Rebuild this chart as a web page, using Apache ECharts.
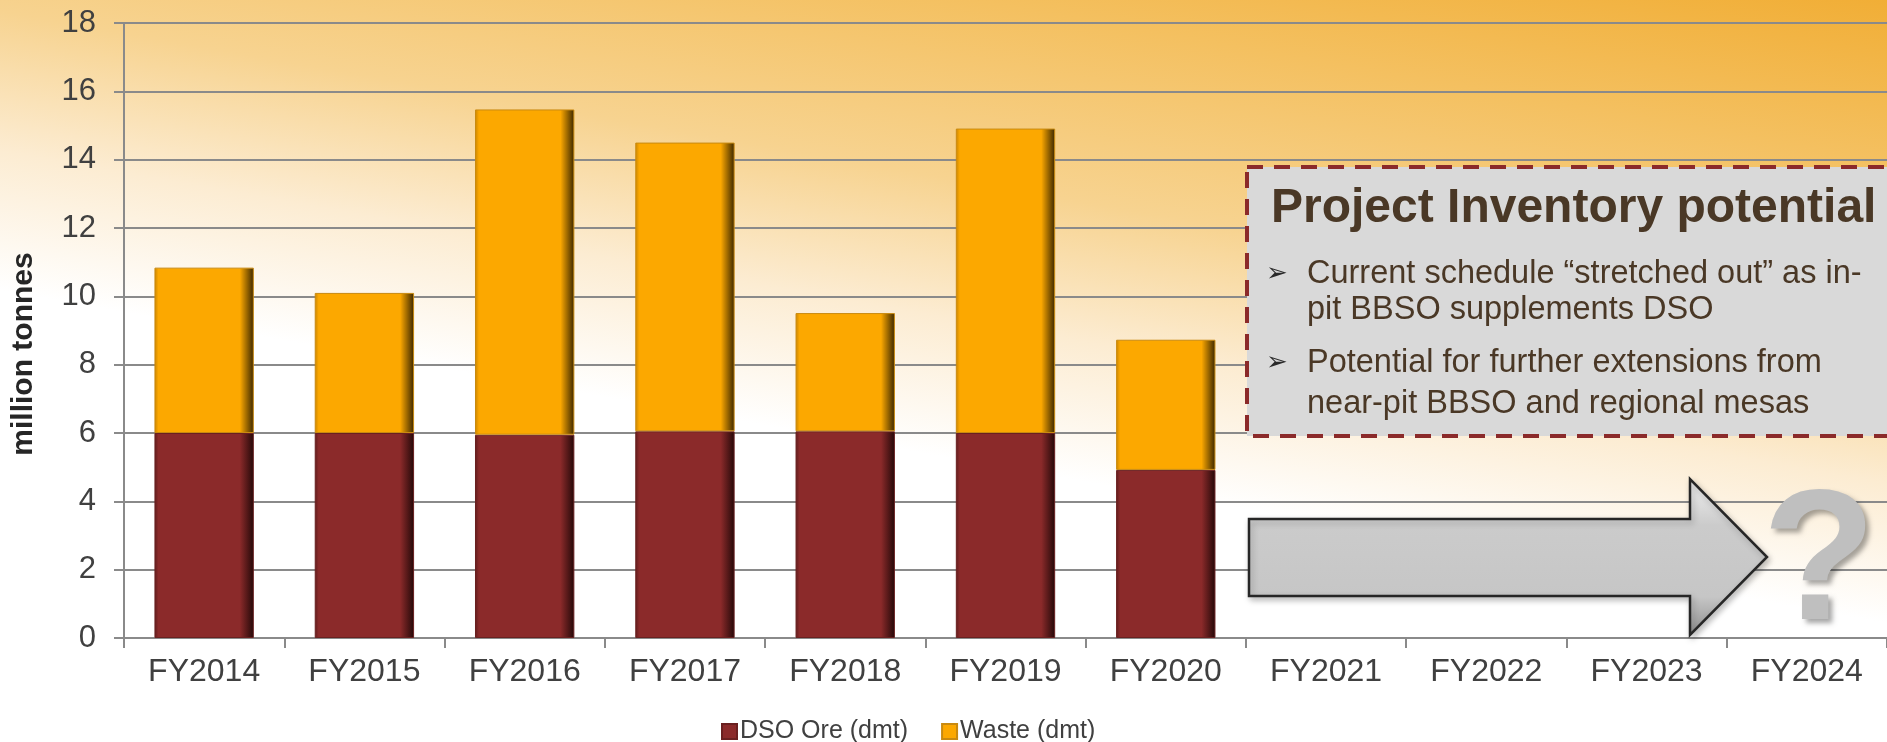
<!DOCTYPE html>
<html>
<head>
<meta charset="utf-8">
<title>Mining schedule</title>
<script src="https://cdn.jsdelivr.net/npm/echarts@6.0.0/dist/echarts.min.js"></script>
<style>
  html, body { margin: 0; padding: 0; }
  #main {
    width: 1887px;
    height: 742px;
    background: linear-gradient(10deg, #ffffff 0%, #ffffff 42%, #fcecd2 55%, #f7d390 68%, #f4c060 85%, #f1ae36 100%);
  }
</style>
</head>
<body>
<div id="main"></div>
<script>
var categories = ["FY2014", "FY2015", "FY2016", "FY2017", "FY2018", "FY2019", "FY2020", "FY2021", "FY2022", "FY2023", "FY2024"];
var dsoOre = [6.0, 6.0, 5.95, 6.05, 6.05, 6.0, 4.92, null, null, null, null];
var waste = [4.84, 4.1, 9.52, 8.45, 3.46, 8.91, 3.81, null, null, null, null];
var yTicks = { min: 0, max: 18, interval: 2 };

var font = "Liberation Sans, Arial, sans-serif";
var textColor = "#404040";
var boxText = "#4a3826";

// bevel-ish look: dark right edge on each bar
function barFill(left, base, right) {
  return new echarts.graphic.LinearGradient(0, 0, 1, 0, [
    { offset: 0, color: left },
    { offset: 0.04, color: base },
    { offset: 0.86, color: base },
    { offset: 1, color: right },
  ]);
}

var chart = echarts.init(document.getElementById("main"));

var option = {
  backgroundColor: "transparent",
  animation: false,
  grid: {
    left: 124,
    right: 0,
    top: 23,
    bottom: 104,
  },
  legend: {
    left: 716,
    top: 714,
    itemGap: 33,
    itemWidth: 15,
    itemHeight: 15,
    icon: "rect",
    textStyle: { fontFamily: font, fontSize: 25, color: textColor, padding: [0, 0, 0, -2] },
    data: ["DSO Ore (dmt)", "Waste (dmt)"],
  },
  xAxis: {
    type: "category",
    data: categories,
    axisLine: { lineStyle: { color: "#8a8a8a", width: 2 } },
    axisTick: { show: true, length: 10, lineStyle: { color: "#8a8a8a", width: 2 } },
    axisLabel: { fontFamily: font, fontSize: 32, color: textColor, margin: 18 },
  },
  yAxis: {
    type: "value",
    min: yTicks.min,
    max: yTicks.max,
    interval: yTicks.interval,
    axisLine: { show: true, lineStyle: { color: "#8a8a8a", width: 2 } },
    axisTick: { show: true, length: 10, lineStyle: { color: "#8a8a8a", width: 2 } },
    splitLine: { lineStyle: { color: "#8a8a8a", width: 2 } },
    axisLabel: { fontFamily: font, fontSize: 31, color: textColor, margin: 28 },
  },
  series: [
    {
      name: "DSO Ore (dmt)",
      type: "bar",
      stack: "total",
      barWidth: "62%",
      itemStyle: {
        color: barFill("#5e1c1c", "#8b2a2a", "#230808"),
        borderColor: "#6a2020",
        borderWidth: 1,
      },
      data: dsoOre,
    },
    {
      name: "Waste (dmt)",
      type: "bar",
      stack: "total",
      barWidth: "62%",
      itemStyle: {
        color: barFill("#c98400", "#fca800", "#3a2600"),
        borderColor: "#c98a10",
        borderWidth: 1,
      },
      data: waste,
    },
  ],
  graphic: [
    {
      type: "text",
      x: 24,
      y: 354,
      rotation: Math.PI / 2,
      style: {
        text: "million tonnes",
        font: "bold 30px " + font,
        fill: "#262626",
        align: "center",
        verticalAlign: "middle",
      },
    },
    {
      type: "rect",
      shape: { x: 1247, y: 167, width: 700, height: 269 },
      style: {
        fill: "#d9d9d9",
        stroke: "#8b2a2a",
        lineWidth: 4,
        lineDash: [16, 11],
      },
      z: 10,
    },
    {
      type: "text",
      x: 1271,
      y: 209,
      z: 11,
      style: {
        text: "Project Inventory potential",
        font: "bold 48px " + font,
        fill: boxText,
        verticalAlign: "middle",
      },
    },
    {
      type: "text",
      x: 1266,
      y: 274,
      z: 11,
      style: { text: "➢", font: "26px DejaVu Sans", fill: "#2a2a2a", verticalAlign: "middle" },
    },
    {
      type: "text",
      x: 1266,
      y: 363,
      z: 11,
      style: { text: "➢", font: "26px DejaVu Sans", fill: "#2a2a2a", verticalAlign: "middle" },
    },
    {
      type: "text",
      x: 1307,
      y: 292,
      z: 11,
      style: {
        text: "Current schedule \u201cstretched out\u201d as in-\npit BBSO supplements DSO",
        font: "32.5px " + font,
        lineHeight: 36,
        fill: boxText,
        verticalAlign: "middle",
      },
    },
    {
      type: "text",
      x: 1307,
      y: 384,
      z: 11,
      style: {
        text: "Potential for further extensions from\nnear-pit BBSO and regional mesas",
        font: "32.5px " + font,
        lineHeight: 41,
        fill: boxText,
        verticalAlign: "middle",
      },
    },
    {
      type: "polygon",
      z: 10,
      shape: {
        points: [
          [1249, 519], [1690, 519], [1690, 479], [1767, 557],
          [1690, 635], [1690, 596], [1249, 596],
        ],
      },
      style: {
        fill: new echarts.graphic.LinearGradient(0, 0, 0, 1, [
          { offset: 0, color: "#f2f2f2" },
          { offset: 0.3, color: "#cbcbcb" },
          { offset: 0.75, color: "#c6c6c6" },
          { offset: 1, color: "#8e8e8e" },
        ]),
        stroke: "#262626",
        lineWidth: 2.5,
        shadowBlur: 6,
        shadowColor: "rgba(0,0,0,0.25)",
        shadowOffsetX: 2,
        shadowOffsetY: 3,
      },
    },
    {
      type: "text",
      x: 1819,
      y: 568,
      z: 10,
      style: {
        text: "?",
        font: "bold 186px " + font,
        fill: "#bfbfbf",
        align: "center",
        verticalAlign: "middle",
        textShadowColor: "rgba(0,0,0,0.35)",
        textShadowBlur: 5,
        textShadowOffsetX: 4,
        textShadowOffsetY: 4,
      },
    },
  ],
};

chart.setOption(option);
</script>
</body>
</html>
